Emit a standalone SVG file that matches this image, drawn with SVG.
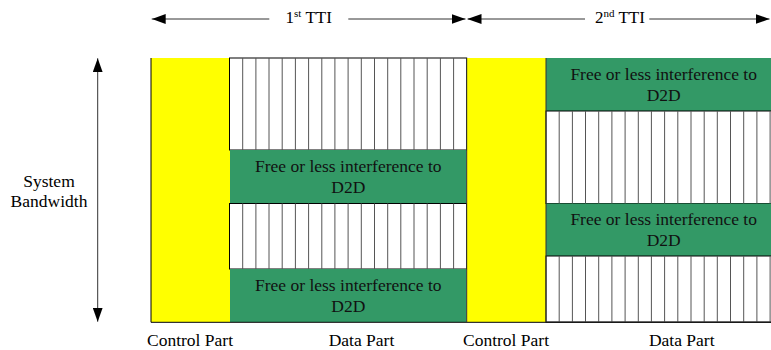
<svg xmlns="http://www.w3.org/2000/svg" width="771" height="350" viewBox="0 0 771 350">
<defs>
<marker id="ah" markerUnits="userSpaceOnUse" markerWidth="14" markerHeight="10" refX="14" refY="5" orient="auto-start-reverse" viewBox="0 0 14 10">
<path d="M0,0 L14,5 L0,10 z" fill="#000"/>
</marker>
<style>
text{font-family:"Liberation Serif","Times New Roman",serif;fill:#000;}
.lbl{font-size:17.5px;text-anchor:middle;}
.gt{font-size:17.5px;text-anchor:middle;fill:#111;}
.ctl{fill:#ffff00;}
.grn{fill:#339966;}
.hatch{fill:#fff;stroke:#000;stroke-width:1;}
.hl{stroke:#555;stroke-width:1;fill:none;}
.arr{stroke:#333;stroke-width:1;fill:none;}
</style>
</defs>
<rect width="771" height="350" fill="#fff"/>

<g id="ctrl1"><rect class="ctl" x="151" y="58" width="79" height="264"/></g>
<g id="data1-hatch-top">
<rect class="hatch" x="229.5" y="58" width="237.2" height="92"/>
<path class="hl" d="M242.7,58V150M255.9,58V150M269,58V150M282.2,58V150M295.4,58V150M308.6,58V150M321.8,58V150M334.9,58V150M348.1,58V150M361.3,58V150M374.5,58V150M387.7,58V150M400.8,58V150M414,58V150M427.2,58V150M440.4,58V150M453.6,58V150"/>
</g>
<g id="data1-free-a">
<rect class="grn" x="230" y="150" width="236.5" height="53.5"/>
<text class="gt" x="348.3" y="171.7">Free or less interference to</text>
<text class="gt" x="348.3" y="192.7">D2D</text>
</g>
<g id="data1-hatch-mid">
<rect class="hatch" x="229.5" y="203.5" width="237.2" height="65.5"/>
<path class="hl" d="M242.7,203.5V269M255.9,203.5V269M269,203.5V269M282.2,203.5V269M295.4,203.5V269M308.6,203.5V269M321.8,203.5V269M334.9,203.5V269M348.1,203.5V269M361.3,203.5V269M374.5,203.5V269M387.7,203.5V269M400.8,203.5V269M414,203.5V269M427.2,203.5V269M440.4,203.5V269M453.6,203.5V269"/>
</g>
<g id="data1-free-b">
<rect class="grn" x="230" y="269" width="236.5" height="53"/>
<text class="gt" x="348.3" y="290.7">Free or less interference to</text>
<text class="gt" x="348.3" y="311.7">D2D</text>
</g>

<g id="ctrl2"><rect class="ctl" x="467" y="58" width="79" height="264"/></g>
<g id="data2-free-a">
<rect class="grn" x="546" y="58" width="230" height="53"/>
<text class="gt" x="663.7" y="80">Free or less interference to</text>
<text class="gt" x="663.7" y="101">D2D</text>
</g>
<g id="data2-hatch-top">
<rect class="hatch" x="546" y="111" width="230" height="92.5"/>
<path class="hl" d="M559.2,111V203.5M572.4,111V203.5M585.5,111V203.5M598.7,111V203.5M611.9,111V203.5M625.1,111V203.5M638.3,111V203.5M651.4,111V203.5M664.6,111V203.5M677.8,111V203.5M691,111V203.5M704.2,111V203.5M717.3,111V203.5M730.5,111V203.5M743.7,111V203.5M756.9,111V203.5M770.1,111V203.5"/>
</g>
<g id="data2-free-b">
<rect class="grn" x="546" y="203.5" width="230" height="52.5"/>
<text class="gt" x="663.7" y="225">Free or less interference to</text>
<text class="gt" x="663.7" y="245.7">D2D</text>
</g>
<g id="data2-hatch-bot">
<rect class="hatch" x="546" y="256" width="230" height="66"/>
<path class="hl" d="M559.2,256V322M572.4,256V322M585.5,256V322M598.7,256V322M611.9,256V322M625.1,256V322M638.3,256V322M651.4,256V322M664.6,256V322M677.8,256V322M691,256V322M704.2,256V322M717.3,256V322M730.5,256V322M743.7,256V322M756.9,256V322M770.1,256V322"/>
</g>

<g id="frame">
<path d="M151,58V322.3H776" stroke="#000" stroke-width="1" fill="none"/>
<path d="M466.7,58V322M546,58V322" stroke="#333" stroke-width="1" fill="none"/>
</g>

<g id="connectors">
<line class="arr" x1="269.3" y1="19" x2="151.7" y2="19" marker-end="url(#ah)"/>
<line class="arr" x1="348.3" y1="19" x2="465.5" y2="19" marker-end="url(#ah)"/>
<line class="arr" x1="585" y1="19" x2="467.5" y2="19" marker-end="url(#ah)"/>
<line class="arr" x1="649.3" y1="19" x2="769.5" y2="19" marker-end="url(#ah)"/>
<line class="arr" x1="97.7" y1="58.3" x2="97.7" y2="321.7" marker-start="url(#ah)" marker-end="url(#ah)"/>
</g>

<g id="labels">
<text x="285.6" y="22.7" style="font-size:17px">1<tspan style="font-size:11px" dy="-6">st</tspan><tspan dy="6"> TTI</tspan></text>
<text x="595" y="22.7" style="font-size:17px">2<tspan style="font-size:11px" dy="-6">nd</tspan><tspan dy="6"> TTI</tspan></text>
<text class="lbl" x="49" y="187.3">System</text>
<text class="lbl" x="49" y="207.3">Bandwidth</text>
<text class="lbl" x="190" y="345.7">Control Part</text>
<text class="lbl" x="361.5" y="345.7">Data Part</text>
<text class="lbl" x="506" y="345.7">Control Part</text>
<text class="lbl" x="681.7" y="345.7">Data Part</text>
</g>
</svg>
